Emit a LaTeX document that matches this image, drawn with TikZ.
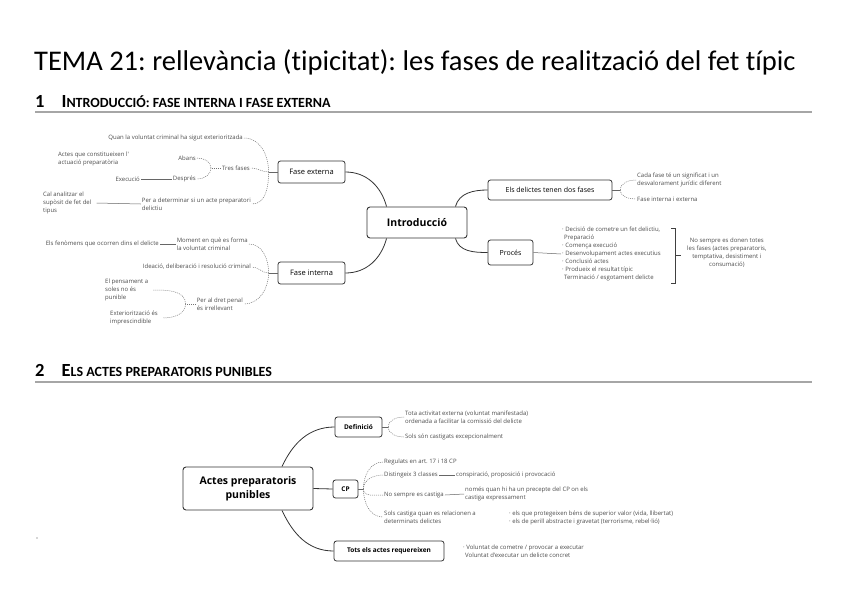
\documentclass[tikz,border=0pt]{standalone}
\usepackage{fontspec}
\setmainfont{Carlito}[Ligatures={NoCommon}]
\newfontfamily\mmfont{Open Sans}
\frenchspacing
\usetikzlibrary{positioning}
\tikzset{
  topic/.style={
    draw=black!80, line width=0.9pt, rounded corners=3pt,
    align=center, inner sep=2pt,
    font=\mmfont\bfseries\fontsize{10.5}{14}\selectfont},
  fase/.style={
    draw=black!80, line width=0.8pt, rounded corners=2.5pt,
    align=center, inner sep=2pt,
    font=\mmfont\fontsize{7.5}{9}\selectfont},
  subfase/.style={
    fase, font=\mmfont\bfseries\fontsize{6.5}{8}\selectfont},
  leaf/.style={
    align=left, inner sep=1pt, text=black!70,
    font=\mmfont\fontsize{6}{8}\selectfont},
  link/.style={draw=black!80, line width=0.8pt},
  stub/.style={draw=black!60, line width=0.5pt},
  dots/.style={draw=black!55, line width=0.5pt, dash pattern=on 1pt off 1pt},
  rule/.style={draw=black!35, line width=1.2pt},
  head/.style={anchor=west, inner sep=0pt, font=\bfseries\fontsize{14}{16}\selectfont},
}
\newcommand\capgran[1]{{\fontsize{18.5}{20}\selectfont #1}}

\begin{document}
\begin{tikzpicture}[x=1pt,y=-1pt]
  \useasboundingbox (0,0) rectangle (848,599);

  % titol i capcaleres
  \node[anchor=west, inner sep=0pt, font=\fontsize{28.5}{32}\selectfont] (title) at (34,62)
    {TEMA 21: rellevància (tipicitat): les fases de realització del fet típic};

  \node[head] (h1) at (35,102)
    {\capgran{1}\hspace{17pt}\capgran{I}NTRODUCCIÓ: FASE INTERNA I FASE EXTERNA};
  \draw[rule] (35,112) -- (812,112);

  \node[head] (h2) at (35,370)
    {\capgran{2}\hspace{17pt}\capgran{E}LS ACTES PREPARATORIS PUNIBLES};
  \draw[rule] (35,382) -- (812,382);

  % mapa 1
  \node[topic, minimum width=100, minimum height=31] (intro) at (417,222.5) {Introducció};

  \node[fase, minimum width=67, minimum height=22] (fe) at (311.5,172) {Fase externa};
  \node[fase, minimum width=67, minimum height=22] (fi) at (311.5,273) {Fase interna};
  \node[fase, minimum width=124, minimum height=20, font=\mmfont\fontsize{7}{9}\selectfont]
    (dues) at (550,190) {Els delictes tenen dos fases};
  \node[fase, minimum width=45, minimum height=25, font=\mmfont\fontsize{7}{9}\selectfont]
    (proces) at (510.5,252.5) {Procés};

  \draw[link] (fe.east) to[out=0,in=105] ([xshift=20pt]intro.north west);
  \draw[link] (fi.east) to[out=0,in=-105] ([xshift=20pt]intro.south west);
  \draw[link] (dues.west) to[out=180,in=75] ([xshift=-12pt]intro.north east);
  \draw[link] (proces.west) to[out=180,in=-75] ([xshift=-12pt]intro.south east);

  % fase externa
  \node[leaf, anchor=east] (feA) at (244,138) {Quan la voluntat criminal ha sigut exterioritzada};
  \node[leaf, anchor=east] (feB) at (251,168) {Tres fases};
  \node[leaf, anchor=east] (feB1) at (197,158) {Abans};
  \node[leaf, anchor=east] (feB2) at (197,179) {Després};
  \node[leaf, anchor=east] (feB2a) at (141,179) {Execució};
  \node[leaf, anchor=west] (feNota) at (57,159) {Actes que constitueixen l'\\actuació preparatòria};
  \node[leaf, anchor=east] (feC) at (252,204) {Per a determinar si un acte preparatori\\delictiu};
  \node[leaf, anchor=west] (feC1) at (42,203) {Cal analitzar el\\supòsit de fet del\\tipus};

  \coordinate (fej) at ([xshift=-9pt]fe.west);
  \draw[stub] (fe.west) -- (fej);
  \draw[dots] (fej) to[out=90,in=0] (feA.east);
  \draw[dots] (fej) to[out=180,in=0] (feB.east);
  \draw[dots] (fej) to[out=-90,in=0] (feC.east);

  \coordinate (tfj) at ([xshift=-10pt]feB.west);
  \draw[dots] (feB.west) -- (tfj);
  \draw[dots] (tfj) to[out=90,in=0] (feB1.east);
  \draw[dots] (tfj) to[out=-90,in=0] (feB2.east);
  \draw[stub] (feB2.west) -- (feB2a.east);
  \draw[stub] (feC.west) -- ([xshift=4pt]feC1.east);

  % fase interna
  \node[leaf, anchor=east] (fiA) at (249,244) {Moment en què es forma\\la voluntat criminal};
  \node[leaf, anchor=east] (fiA1) at (160,244) {Els fenòmens que ocorren dins el delicte};
  \node[leaf, anchor=east] (fiB) at (252,267) {Ideació, deliberació i resolució criminal};
  \node[leaf, anchor=east] (fiC) at (244,304) {Per al dret penal\\és irrellevant};
  \node[leaf, anchor=west] (fiC1) at (104,290) {El pensament a\\soles no és\\punible};
  \node[leaf, anchor=west] (fiC2) at (109,318) {Exteriorització és\\imprescindible};

  \coordinate (fij) at ([xshift=-9pt]fi.west);
  \draw[stub] (fi.west) -- (fij);
  \draw[dots] (fij) to[out=90,in=0] (fiA.east);
  \draw[dots] (fij) to[out=180,in=0] (fiB.east);
  \draw[dots] (fij) to[out=-90,in=0] (fiC.east);
  \draw[stub] (fiA.west) -- (fiA1.east);

  \coordinate (pdj) at ([xshift=-10pt]fiC.west);
  \draw[dots] (fiC.west) -- (pdj);
  \draw[dots] (pdj) to[out=90,in=0] ([xshift=4pt]fiC1.east);
  \draw[dots] (pdj) to[out=-90,in=0] ([xshift=4pt]fiC2.east);

  % dues fases
  \node[leaf, anchor=west] (duesA) at (636,180) {Cada fase té un significat i un\\desvalorament jurídic diferent};
  \node[leaf, anchor=west] (duesB) at (636,199) {Fase interna i externa};
  \coordinate (dj) at ([xshift=8pt]dues.east);
  \draw[stub] (dues.east) -- (dj);
  \draw[dots] (dj) to[out=90,in=180] (duesA.west);
  \draw[dots] (dj) to[out=-90,in=180] (duesB.west);

  % proces
  \node[leaf, anchor=west] (procL) at (561,254)
    {· Decisió de cometre un fet delictiu,\\
     \hspace*{2pt}Preparació\\
     · Comença execució\\
     · Desenvolupament actes executius\\
     · Conclusió actes\\
     · Produeix el resultat típic\\
     \hspace*{2pt}Terminació / esgotament delicte};
  \draw[stub] (proces.east) -- (procL.west);
  \draw[black!75, line width=0.7pt] (671,228) -- (675,228) -- (675,283) -- (671,283);
  \draw[black!75, line width=0.7pt] (675,255) -- (681,255);
  \node[leaf, align=center, anchor=west] (fases) at (686,253)
    {No sempre es donen totes\\les fases (actes preparatoris,\\temptativa, desistiment i\\consumació)};

  % mapa 2
  \node[topic, minimum width=130, minimum height=43] (app) at (248,488.5) {Actes preparatoris\\punibles};
  \node[subfase, minimum width=47, minimum height=20] (def) at (358.5,427) {Definició};
  \node[subfase, minimum width=25, minimum height=18] (cp) at (345.5,489) {CP};
  \node[subfase, minimum width=110, minimum height=20] (tots) at (389,551) {Tots els actes requereixen};

  \draw[link] (def.west) to[out=180,in=65] ([xshift=34pt]app.north);
  \draw[link] (app.east) -- (cp.west);
  \draw[link] (tots.west) to[out=180,in=-65] ([xshift=34pt]app.south);

  % definicio
  \node[leaf, anchor=west] (defA) at (404,417)
    {Tota activitat externa (voluntat manifestada)\\ordenada a facilitar la comissió del delicte};
  \node[leaf, anchor=west] (defB) at (404,437) {Sols són castigats excepcionalment};
  \coordinate (dfj) at ([xshift=6pt]def.east);
  \draw[stub] (def.east) -- (dfj);
  \draw[dots] (dfj) to[out=90,in=180] (defA.west);
  \draw[dots] (dfj) to[out=-90,in=180] (defB.west);

  % codi penal
  \node[leaf, anchor=west] (cpA) at (383,462) {Regulats en art. 17 i 18 CP};
  \node[leaf, anchor=west] (cpB) at (383,475) {Distingeix 3 classes};
  \node[leaf, anchor=west] (cpB1) at (455,475) {conspiració, proposició i provocació};
  \node[leaf, anchor=west] (cpC) at (383,495) {No sempre es castiga};
  \node[leaf, anchor=west] (cpC1) at (464,494) {només quan hi ha un precepte del CP on els\\castiga expressament};
  \node[leaf, anchor=west] (cpD) at (383,517) {Sols castiga quan es relacionen a\\determinats delictes};
  \node[leaf, anchor=west] (cpD1) at (508,518)
    {· els que protegeixen béns de superior valor (vida, llibertat)\\
     · els de perill abstracte i gravetat (terrorisme, rebel·lió)};
  \coordinate (cpj) at ([xshift=5pt]cp.east);
  \draw[stub] (cp.east) -- (cpj);
  \draw[dots] (cpj) to[out=90,in=180] (cpA.west);
  \draw[dots] (cpj) to[out=90,in=180] (cpB.west);
  \draw[dots] (cpj) to[out=-90,in=180] (cpC.west);
  \draw[dots] (cpj) to[out=-90,in=180] (cpD.west);
  \draw[stub] (cpB.east) -- (cpB1.west);
  \draw[stub] (cpC.east) -- (cpC1.west);

  % requisits
  \node[leaf, anchor=west] (totsA) at (462,551)
    {· Voluntat de cometre / provocar a executar\\
     \hspace*{2pt}Voluntat d'executar un delicte concret};

  \fill[black!70] (37,538) circle (0.6);
\end{tikzpicture}
\end{document}
